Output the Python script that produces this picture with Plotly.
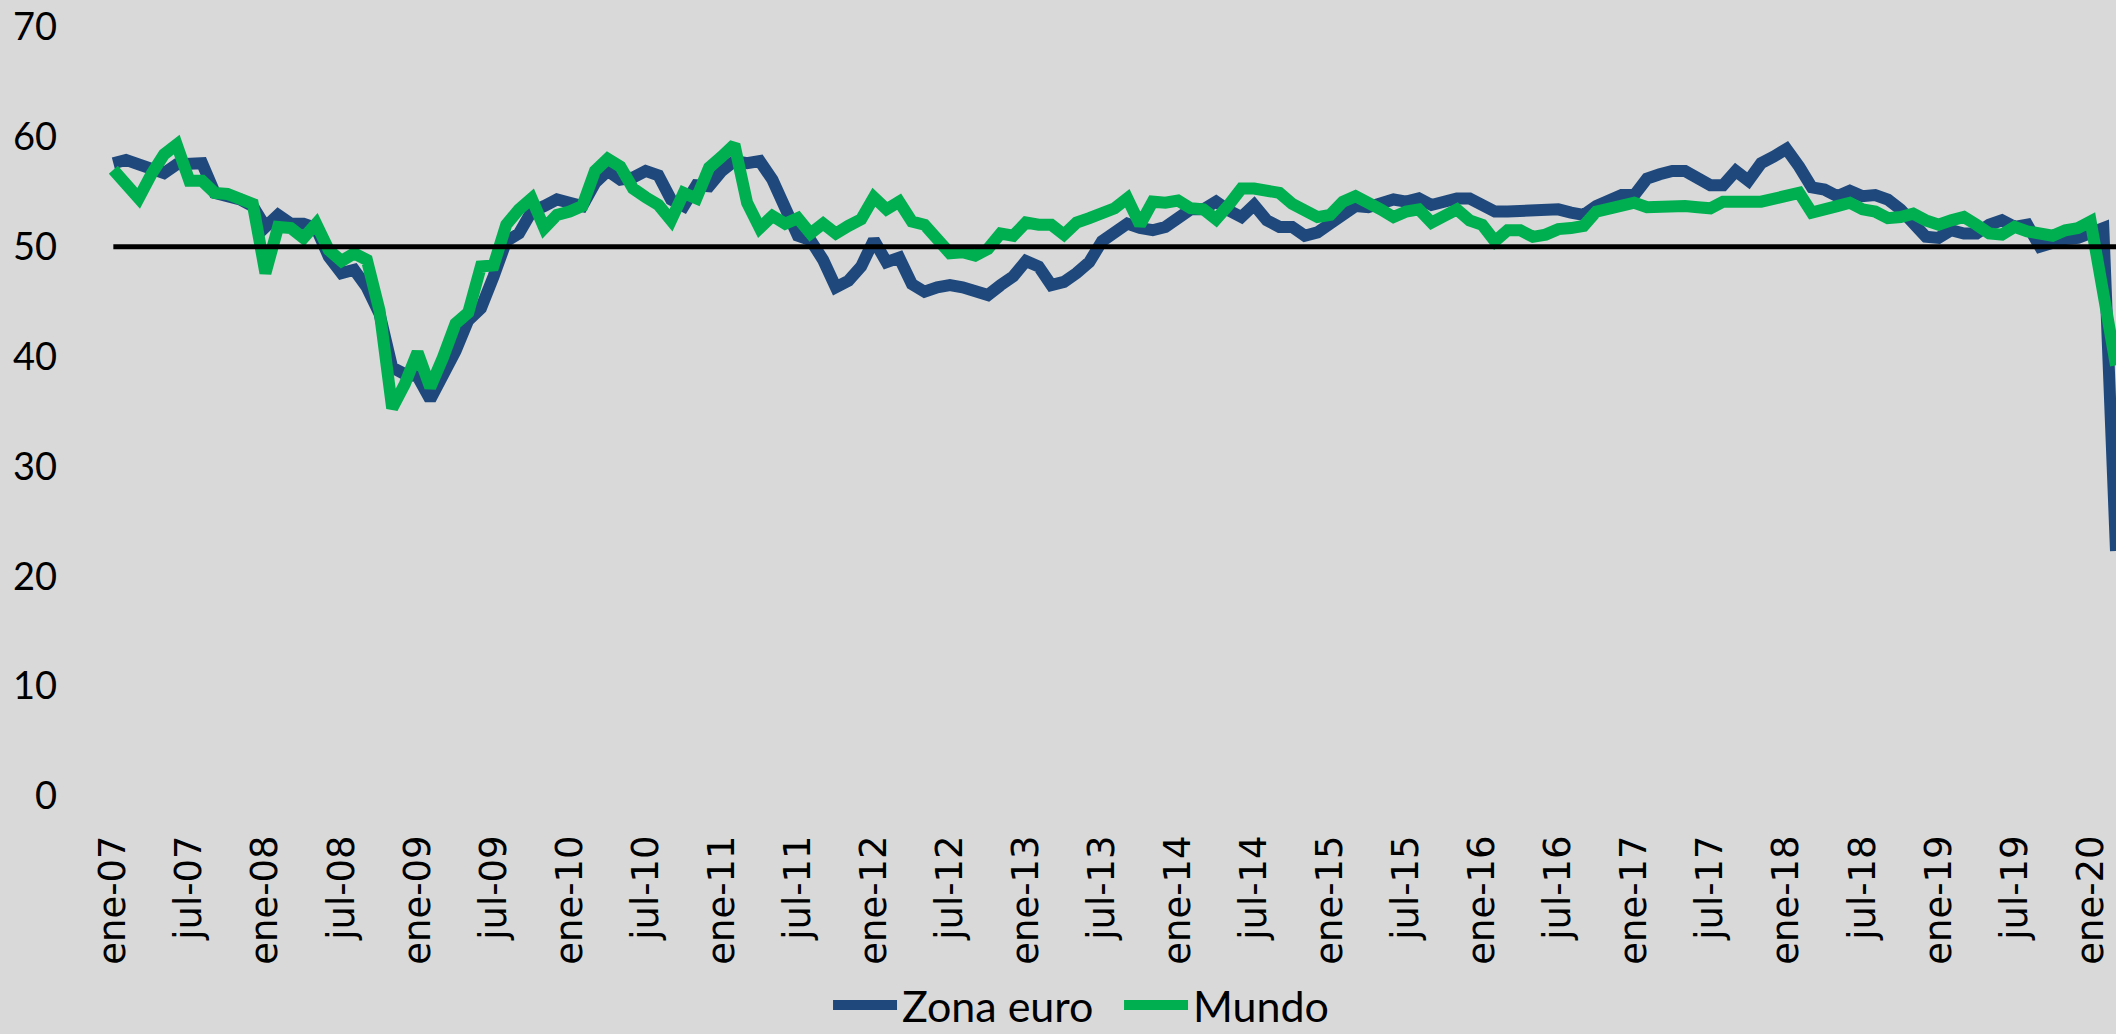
import plotly.graph_objects as go

years = list(range(2007, 2021))
month_abbr = ["ene", "feb", "mar", "abr", "may", "jun", "jul", "ago", "sep", "oct", "nov", "dic"]
categories = [f"{m}-{str(y)[2:]}" for y in years for m in month_abbr][:159]  # ene-07 .. mar-20

zona_euro = [
    57.6, 57.9, 57.5, 57.0, 56.7, 57.5, 57.6, 57.6, 54.9, 54.7, 54.3, 53.7,
    51.8, 52.9, 52.1, 52.1, 51.7, 49.1, 47.6, 47.9, 46.3, 43.9, 39.0, 38.4,
    38.2, 36.1, 38.1, 40.5, 43.3, 44.4, 47.3, 50.5, 51.2, 53.2, 53.7, 54.3,
    54.0, 53.7, 55.8, 56.9, 56.1, 56.3, 56.9, 56.5, 54.3, 53.7, 55.6, 55.5,
    56.9, 57.8, 57.6, 57.8, 56.1, 53.7, 51.0, 50.6, 48.8, 46.3, 46.9, 48.2,
    50.6, 48.6, 49.0, 46.6, 45.9, 46.3, 46.5, 46.3, 46.0, 45.6, 46.5, 47.3,
    48.7, 48.2, 46.5, 46.8, 47.6, 48.6, 50.5, 51.4, 52.1, 51.7, 51.5, 51.8,
    52.7, 53.4, 53.4, 54.1, 53.3, 52.7, 53.8, 52.4, 51.8, 51.8, 51.0, 51.3,
    52.1, 52.9, 53.7, 53.6, 54.0, 54.3, 54.1, 54.4, 53.8, 54.1, 54.4, 54.4,
    53.7, 53.2, 53.2, 53.2, 53.3, 53.4, 53.4, 53.1, 52.9, 53.7, 54.3, 54.7,
    54.7, 56.2, 56.6, 56.9, 56.9, 56.3, 55.6, 55.6, 56.9, 56.0, 57.6, 58.2,
    58.9, 57.3, 55.4, 55.2, 54.6, 55.1, 54.6, 54.7, 54.3, 53.4, 52.3, 50.9,
    50.8, 51.5, 51.2, 51.2, 52.0, 52.4, 51.8, 52.0, 50.0, 50.4, 50.7, 50.8,
    51.3, 51.7, 22.3,
]

mundo = [
    57.0, 55.7, 54.4, 56.6, 58.4, 59.3, 56.0, 56.0, 54.9, 54.8, 54.3, 53.9,
    47.6, 51.8, 51.7, 50.8, 52.1, 49.7, 48.7, 49.4, 48.8, 44.2, 35.3, 37.5,
    40.4, 37.2, 39.9, 43.0, 44.0, 48.2, 48.3, 52.0, 53.4, 54.4, 51.7, 52.9,
    53.2, 53.7, 56.9, 58.0, 57.3, 55.3, 54.5, 53.8, 52.4, 54.9, 54.4, 57.2,
    58.2, 59.3, 54.0, 51.7, 52.8, 52.1, 52.6, 51.2, 52.1, 51.2, 51.9, 52.5,
    54.5, 53.4, 54.1, 52.3, 52.0, 50.5, 49.4, 49.5, 49.2, 49.8, 51.2, 51.0,
    52.2, 52.0, 52.0, 51.1, 52.2, 52.6, 53.1, 53.5, 54.4, 52.0, 54.1, 54.0,
    54.2, 53.5, 53.4, 52.5, 53.8, 55.3, 55.3, 55.2, 54.9, 53.9, 53.4, 52.7,
    52.9, 54.1, 54.6, 54.1, 53.4, 52.7, 53.2, 53.4, 52.2, 52.8, 53.4, 52.4,
    52.0, 50.5, 51.5, 51.5, 50.9, 51.1, 51.6, 51.7, 51.9, 53.2, 53.4, 53.7,
    54.0, 53.6, 53.7, 53.6, 53.7, 53.6, 53.5, 54.1, 54.0, 54.1, 54.1, 54.3,
    54.6, 54.9, 53.1, 53.5, 53.7, 54.0, 53.4, 53.2, 52.6, 52.7, 53.0, 52.4,
    52.0, 52.4, 52.7, 52.0, 51.2, 51.1, 51.8, 51.4, 51.1, 51.0, 51.5, 51.7,
    52.3, 46.0, 39.2,
]

umbral = [50] * len(categories)

y_ticks = [0, 10, 20, 30, 40, 50, 60, 70]

x_idx = list(range(len(categories)))
tick_idx = x_idx[::6]
tick_txt = categories[::6]

BLUE = "#1F497D"
GREEN = "#00B050"
BG = "#D9D9D9"

fig = go.Figure()
fig.add_trace(go.Scatter(x=x_idx, y=zona_euro, mode="lines", name="Zona euro",
                         line=dict(color=BLUE, width=12)))
fig.add_trace(go.Scatter(x=x_idx, y=mundo, mode="lines", name="Mundo",
                         line=dict(color=GREEN, width=12)))
fig.add_trace(go.Scatter(x=x_idx, y=umbral, mode="lines", showlegend=False,
                         hoverinfo="skip", line=dict(color="black", width=5)))

fig.update_layout(
    width=2116, height=1034,
    paper_bgcolor=BG, plot_bgcolor=BG,
    margin=dict(l=107, r=0, t=27, b=238, autoexpand=False),
    showlegend=True,
    legend=dict(orientation="h", x=0.3589, xanchor="left", y=-0.272, yanchor="middle",
                font=dict(family="Lato", size=43, color="black"),
                bgcolor="rgba(0,0,0,0)", itemwidth=64, entrywidth=212,
                entrywidthmode="pixels", tracegroupgap=0),
    xaxis=dict(range=[-0.5, 158], tickmode="array", tickvals=tick_idx, ticktext=tick_txt,
               tickangle=-90, showgrid=False, zeroline=False, showline=False, ticks="",
               ticklabelstandoff=31, automargin=False,
               tickfont=dict(family="DejaVu Sans", size=37, color="black")),
    yaxis=dict(range=[0, 70], tickmode="array", tickvals=y_ticks, showgrid=False,
               zeroline=False, showline=False, ticks="", ticklabelstandoff=49,
               automargin=False,
               tickfont=dict(family="Lato", size=38, color="black")),
)

fig.write_html(
    "out.html",
    config={"displayModeBar": False},
    post_script="document.body.style.margin='0';document.body.style.overflow='hidden';",
)
